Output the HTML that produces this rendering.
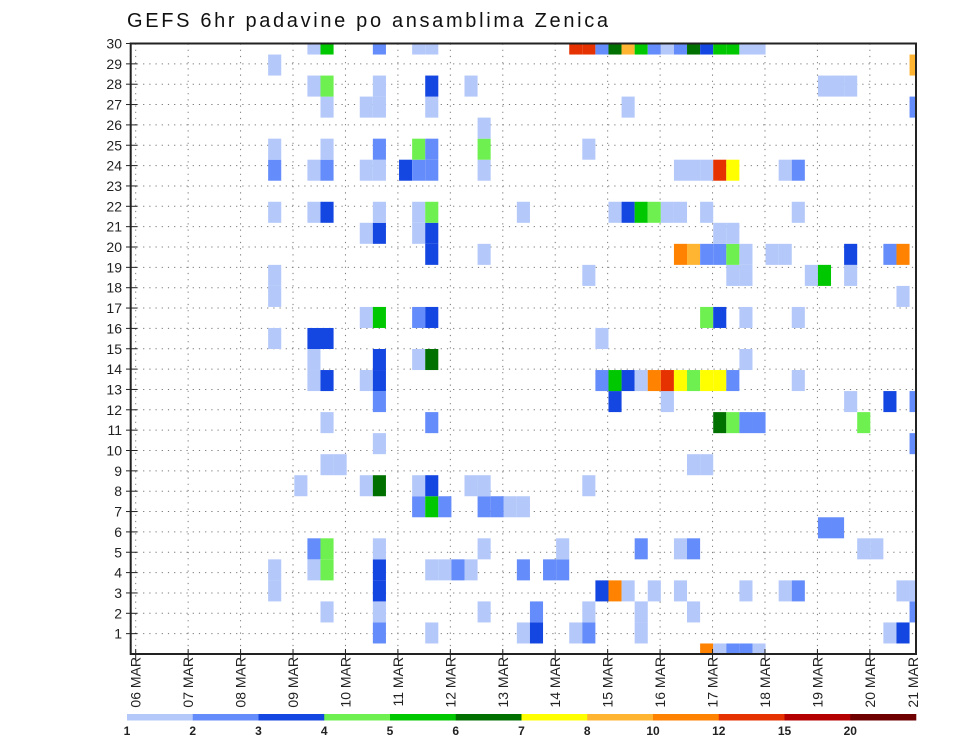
<!DOCTYPE html>
<html><head><meta charset="utf-8"><style>
html,body{margin:0;padding:0;background:#fff;}
svg{display:block;font-family:"Liberation Sans",sans-serif;}
</style></head><body>
<svg id="chart" width="960" height="742" viewBox="0 0 960 742" xmlns="http://www.w3.org/2000/svg">
<defs><clipPath id="plotclip"><rect x="130.7" y="43.5" width="785.3" height="610.5"/></clipPath></defs>
<text x="127" y="27" font-size="20" textLength="481" lengthAdjust="spacing" fill="#111">GEFS 6hr padavine po ansamblima Zenica</text>
<g id="grid"></g>
<g id="cells" clip-path="url(#plotclip)"></g>
<g id="axes"></g>
<g id="cbar"></g>
</svg>
<script>
const dayLabels = ["06 MAR","07 MAR","08 MAR","09 MAR","10 MAR","11 MAR","12 MAR","13 MAR","14 MAR","15 MAR","16 MAR","17 MAR","18 MAR","19 MAR","20 MAR","21 MAR"];
const memberTicks = [1,2,3,4,5,6,7,8,9,10,11,12,13,14,15,16,17,18,19,20,21,22,23,24,25,26,27,28,29,30];
const levelBounds = [1,2,3,4,5,6,7,8,10,12,15,20];
const levelColors = ["#b4c8fa","#648cfa","#1446e1","#6ef050","#00c800","#007000","#ffff00","#ffb432","#ff8200","#e63200","#b40000","#6e0000"];
const levelValues = [1.5,2.5,3.5,4.5,5.5,6.5,7.5,9,11,13.5,17,22];
// row index (0 = bottom) -> "step:level" pairs
const rowCells = {
29:"14:1,15:5,19:2,22:1,23:1,34:10,35:10,36:2,37:6,38:8,39:5,40:2,41:1,42:2,43:6,44:3,45:5,46:5,47:1,48:1",
28:"11:1,60:8",
27:"14:1,15:4,19:1,23:3,26:1,53:1,54:1,55:1",
26:"15:1,18:1,19:1,23:1,38:1,60:2",
25:"27:1",
24:"11:1,15:1,19:2,22:4,23:2,27:4,35:1",
23:"11:2,14:1,15:2,18:1,19:1,21:3,22:2,23:2,27:1,42:1,43:1,44:1,45:10,46:7,50:1,51:2",
21:"11:1,14:1,15:3,19:1,22:1,23:4,30:1,37:1,38:3,39:5,40:4,41:1,42:1,44:1,51:1",
20:"18:1,19:3,22:1,23:3,45:1,46:1",
19:"23:3,27:1,42:9,43:8,44:2,45:2,46:4,47:1,49:1,50:1,55:3,58:2,59:9",
18:"11:1,35:1,46:1,47:1,52:1,53:5,55:1",
17:"11:1,59:1",
16:"18:1,19:5,22:2,23:3,44:4,45:3,47:1,51:1",
15:"11:1,14:3,15:3,36:1",
14:"14:1,19:3,22:1,23:6,47:1",
13:"14:1,15:3,18:1,19:3,36:2,37:5,38:3,39:1,40:9,41:10,42:7,43:4,44:7,45:7,46:2,51:1",
12:"19:2,37:3,41:1,55:1,58:3,60:2",
11:"15:1,23:2,45:6,46:4,47:2,48:2,56:4",
10:"19:1,60:2",
9:"15:1,16:1,43:1,44:1",
8:"13:1,18:1,19:6,22:1,23:3,26:1,27:1,35:1",
7:"22:2,23:5,24:2,27:2,28:2,29:1,30:1",
6:"53:2,54:2",
5:"14:2,15:4,19:1,27:1,33:1,39:2,42:1,43:2,56:1,57:1",
4:"11:1,14:1,15:4,19:3,23:1,24:1,25:2,26:1,30:2,32:2,33:2",
3:"11:1,19:3,36:3,37:9,38:1,40:1,42:1,47:1,50:1,51:2,59:1,60:1",
2:"15:1,19:1,27:1,31:2,35:1,39:1,43:1,60:2",
1:"19:2,23:1,30:1,31:3,34:1,35:2,39:1,58:1,59:3",
0:"44:9,45:1,46:2,47:2,48:1"
};
const cellRow = [], cellStep = [], cellPrecip = [];
Object.keys(rowCells).forEach(function(r){
  rowCells[r].split(",").forEach(function(p){
    const a = p.split(":");
    cellRow.push(+r); cellStep.push(+a[0]); cellPrecip.push(levelValues[+a[1]-1]);
  });
});

const NS = "http://www.w3.org/2000/svg";
const PL = 130.7, PR = 916, PT = 43.5, PB = 654;
const cellW = 13.09, cellH = 21.034;
function xStep(s){ return PL + s*cellW; }
function yRow(r){ return PB - r*cellH; }
function xDay(d){ return 135.7 + d*52.44; }
function yMember(m){ return PB - m*((PB-PT)/30); }
function colorFor(v){ let c = null; for (let i=0;i<levelBounds.length;i++){ if (v>=levelBounds[i]) c = levelColors[i]; } return c; }
function mk(tag, attrs, parent){ const e=document.createElementNS(NS,tag); for(const k in attrs) e.setAttribute(k,attrs[k]); parent.appendChild(e); return e; }

const grid = document.getElementById("grid");
memberTicks.forEach(function(m){
  const y = yMember(m);
  const l = mk("line",{x1:PL,x2:PR,y1:y,y2:y,stroke:"#777","stroke-width":1,"stroke-dasharray":"1.2 5"},grid);
  
  
});
dayLabels.forEach(function(d,i){
  const x = xDay(i);
  if (x > PR) return;
  const l = mk("line",{x1:x,x2:x,y1:PT,y2:PB,stroke:"#777","stroke-width":1,"stroke-dasharray":"1.2 5"},grid);
  
  
});

const cells = document.getElementById("cells");
for (let i=0;i<cellRow.length;i++){
  const col = colorFor(cellPrecip[i]);
  if (!col) continue;
  const x = xStep(cellStep[i]) - cellW/2, y = yRow(cellRow[i]) - cellH/2;
  const r = mk("rect",{x:x.toFixed(2),y:y.toFixed(2),width:cellW.toFixed(2),height:cellH.toFixed(2),fill:col},cells);
  
  
}

const axes = document.getElementById("axes");
const frame = mk("rect",{x:PL,y:PT,width:PR-PL,height:PB-PT,fill:"none",stroke:"#222","stroke-width":2},axes);


memberTicks.forEach(function(m){
  const y = yMember(m);
  const t = mk("line",{x1:126,x2:137,y1:y,y2:y,stroke:"#222","stroke-width":1},axes);
  
  
  const tx = mk("text",{x:122,y:y+5,"font-size":14,"text-anchor":"end",fill:"#222"},axes);
  tx.textContent = m;
  
  
});
dayLabels.forEach(function(d,i){
  const x = Math.min(xDay(i), 913);
  if (xDay(i) <= PR){
    const t = mk("line",{x1:x,x2:x,y1:PB-5,y2:PB+6,stroke:"#222","stroke-width":1},axes);
    
    
  }
  const tx = mk("text",{x:0,y:0,"font-size":14,"text-anchor":"end",fill:"#222",transform:"translate("+(x+5)+",657) rotate(-90)"},axes);
  tx.textContent = d;
  
  
});

const cbar = document.getElementById("cbar");
const cbL = 127, cbR = 916, segW = (cbR-cbL)/levelColors.length;
levelColors.forEach(function(c,i){
  const r = mk("rect",{x:cbL+i*segW,y:714,width:segW+0.3,height:6.5,fill:c},cbar);
  
  
});
levelBounds.forEach(function(b,i){
  const tx = mk("text",{x:cbL+i*segW,y:735,"font-size":12,"font-weight":"bold","text-anchor":"middle",fill:"#222"},cbar);
  tx.textContent = b;
  
  
});
</script>
</body></html>
